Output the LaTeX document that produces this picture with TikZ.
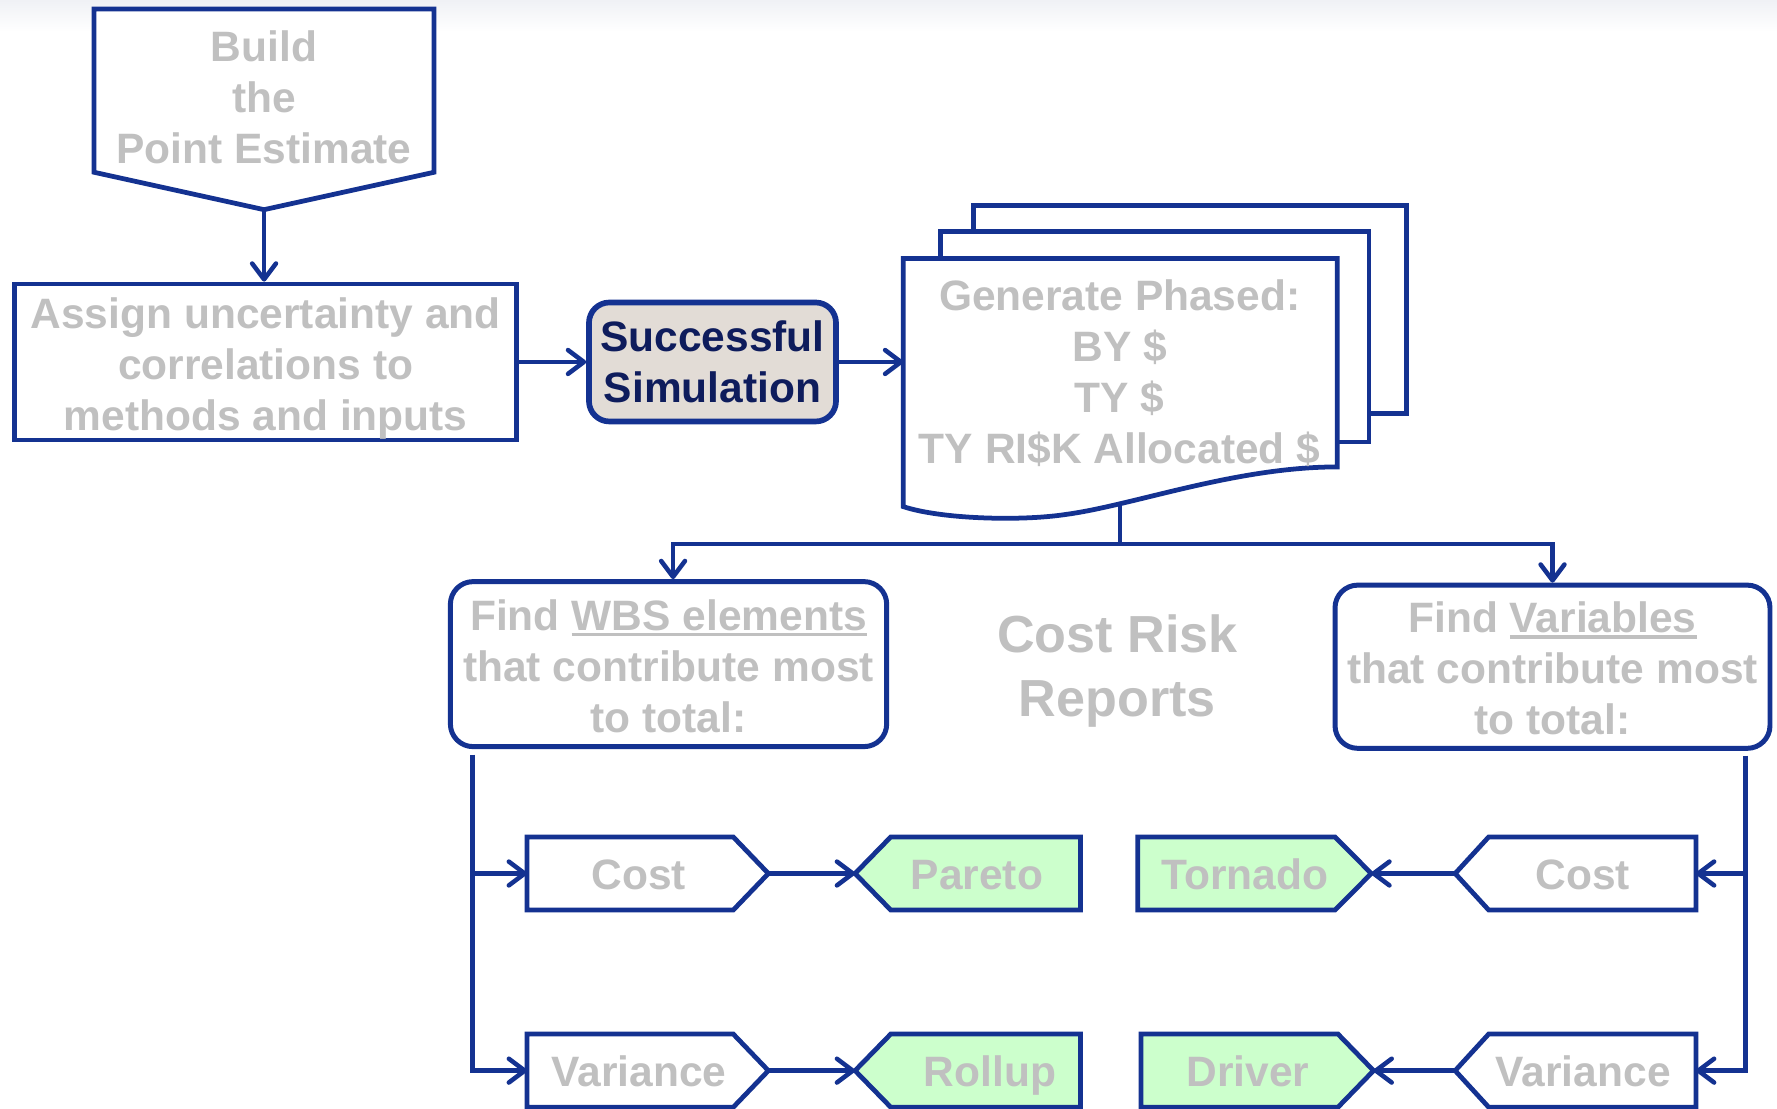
\documentclass[tikz,border=0pt]{standalone}
\usepackage{fontspec}
\setmainfont{Liberation Sans}
\usetikzlibrary{arrows.meta,calc}

\definecolor{navy}{RGB}{20,50,145}
\definecolor{inknavy}{RGB}{14,28,92}
\definecolor{txtgray}{RGB}{192,192,192}
\definecolor{simfill}{RGB}{226,220,214}
\definecolor{hitfill}{RGB}{204,255,204}
\definecolor{haze}{RGB}{240,241,245}

% underline drawn just below the baseline, in the current text colour
\newcommand\ulword[1]{\setbox0=\hbox{#1}\rlap{\rule[-5pt]{\wd0}{2.8pt}}\box0}

\begin{document}
\begin{tikzpicture}[x=1pt,y=-1pt,
  lbl/.style={text=txtgray, font=\fontsize{37.5}{45}\bfseries\selectfont, align=center, inner sep=0pt},
  taglbl/.style={lbl, anchor=base},
  outline/.style={draw=navy, line width=4.2pt, line join=miter, fill=white},
  hit/.style={outline, fill=hitfill},
  boxnode/.style={draw=navy, line width=4.2pt, fill=white, inner sep=0pt},
  roundbox/.style={boxnode, rounded corners=20pt, line width=4.4pt},
  wire/.style={draw=navy, line width=4pt},
  flow/.style={wire, -{Straight Barb[length=14pt,width=21pt,round]}}
]
\useasboundingbox (0,0) rectangle (1568,978);
\clip (0,0) rectangle (1568,978);
\fill[white] (0,0) rectangle (1568,978);
\shade[top color=haze, bottom color=white] (0,0) rectangle (1568,28);

% ---- top: point estimate and uncertainty ----
\draw[outline] (83,8) -- (383,8) -- (383,152) -- (233,185) -- (83,152) -- cycle;
\node[lbl] (build) at (233,86) {Build\\the\\Point Estimate};
\coordinate (buildtip) at (233,185);

\node[boxnode, minimum width=443pt, minimum height=137.6pt] (assign) at (234.4,319.4) {};
\node[lbl] (assigntxt) at (234.4,325) {Assign uncertainty and\\correlations to\\methods and inputs};

\node[draw=navy, line width=5pt, fill=simfill, rounded corners=18pt,
      minimum width=218pt, minimum height=105pt, inner sep=0pt,
      text=inknavy, font=\fontsize{37.5}{45}\bfseries\selectfont, align=center]
      (sim) at (628.7,319.4) {Successful\\Simulation};

% ---- stack of generated reports ----
\draw[outline] (859,181) rectangle (1241,365);
\draw[outline] (830,204) rectangle (1208,390);
\draw[outline] (797,228) -- (1180,228) -- (1180,412)
   .. controls (1090,412) and (1000,446) .. (940,454)
   .. controls (900,460) and (830,458) .. (797,447) -- cycle;
\node[lbl] (doc) at (988,329) {Generate Phased:\\BY \$\\TY \$\\TY RI\$K Allocated \$};
\coordinate (docin) at (797,319.4);
\coordinate (docfoot) at (988,446);
\coordinate (split) at (988,480);

% ---- analysis boxes ----
\node[roundbox, minimum width=385pt, minimum height=145.6pt] (wbs) at (589.9,586) {};
\node[lbl] (wbstxt) at (589.9,588) {Find \ulword{WBS elements}\\that contribute most\\to total:};
\node[roundbox, minimum width=383.8pt, minimum height=144pt] (vars) at (1369.9,588.3) {};
\node[lbl] (varstxt) at (1369.9,590) {Find \ulword{Variables}\\that contribute most\\to total:};

\node[lbl, font=\fontsize{46}{56}\bfseries\selectfont] (title) at (986,592) {Cost Risk\\Reports};

% ---- report tags, upper row ----
\draw[outline] (465,738.5) -- (647,738.5) -- (678,770.75) -- (647,803) -- (465,803) -- cycle;
\node[taglbl] (wcost) at (563.5,784.5) {Cost};
\draw[hit] (754.5,770.75) -- (786,738.5) -- (953.5,738.5) -- (953.5,803) -- (786,803) -- cycle;
\node[taglbl] (pareto) at (862,784.5) {Pareto};
\draw[hit] (1004,738.5) -- (1178,738.5) -- (1210,770.75) -- (1178,803) -- (1004,803) -- cycle;
\node[taglbl] (tornado) at (1098.5,784.5) {Tornado};
\draw[outline] (1284,770.75) -- (1313.6,738.5) -- (1496.5,738.5) -- (1496.5,803) -- (1313.6,803) -- cycle;
\node[taglbl] (vcost) at (1396.5,784.5) {Cost};

% ---- report tags, lower row ----
\draw[outline] (465,912.4) -- (647,912.4) -- (678,944.7) -- (647,977) -- (465,977) -- cycle;
\node[taglbl] (wvar) at (564,958.5) {Variance};
\draw[hit] (754.5,944.7) -- (786,912.4) -- (953.5,912.4) -- (953.5,977) -- (786,977) -- cycle;
\node[taglbl] (rollup) at (873.5,958.5) {Rollup};
\draw[hit] (1006.8,912.4) -- (1180.6,912.4) -- (1212,944.7) -- (1180.6,977) -- (1006.8,977) -- cycle;
\node[taglbl] (driver) at (1101,958.5) {Driver};
\draw[outline] (1284,944.7) -- (1313.6,912.4) -- (1496.5,912.4) -- (1496.5,977) -- (1313.6,977) -- cycle;
\node[taglbl] (vvar) at (1397,958.5) {Variance};

% tag end points
\coordinate (wcostin) at (465,770.75);
\coordinate (wcostout) at (678,770.75);
\coordinate (paretoin) at (754.5,770.75);
\coordinate (tornadoin) at (1210,770.75);
\coordinate (vcostout) at (1284,770.75);
\coordinate (vcostin) at (1496.5,770.75);
\coordinate (wvarin) at (465,944.7);
\coordinate (wvarout) at (678,944.7);
\coordinate (rollupin) at (754.5,944.7);
\coordinate (driverin) at (1212,944.7);
\coordinate (vvarout) at (1284,944.7);
\coordinate (vvarin) at (1496.5,944.7);
\coordinate (lrail) at (417,666);
\coordinate (rrail) at (1540,667);

% ---- connectors ----
\draw[flow] (buildtip) -- (buildtip |- assign.north);
\draw[flow] (assign.east) -- (sim.west);
\draw[flow] (sim.east) -- (docin);
\draw[wire, line width=3.2pt] (docfoot) -- (split);
\draw[flow] (split) -| ($(wbs.north)+(4,0)$);
\draw[flow] (split) -| (vars.north);

\draw[flow] (lrail) |- (wcostin);
\draw[flow] (lrail) |- (wvarin);
\draw[flow] (wcostout) -- (paretoin);
\draw[flow] (wvarout) -- (rollupin);

\draw[flow] (rrail) |- (vcostin);
\draw[flow] (rrail) |- (vvarin);
\draw[flow] (vcostout) -- (tornadoin);
\draw[flow] (vvarout) -- (driverin);
\end{tikzpicture}
\end{document}
